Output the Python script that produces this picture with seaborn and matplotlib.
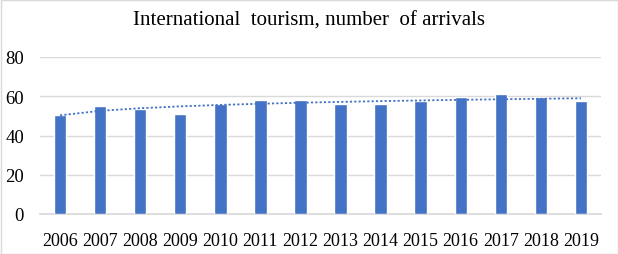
import numpy as np
import pandas as pd
import matplotlib
matplotlib.use("Agg")
import matplotlib.pyplot as plt
import seaborn as sns

years = ["2006", "2007", "2008", "2009", "2010", "2011", "2012",
         "2013", "2014", "2015", "2016", "2017", "2018", "2019"]
arrivals = [50.3, 54.8, 53.3, 50.8, 55.8, 57.9, 57.9,
            55.8, 55.8, 57.4, 59.4, 60.9, 59.4, 57.4]
yticks = [0, 20, 40, 60, 80]
title = "International  tourism, number  of arrivals"

sns.set_theme(style="white")
plt.rcParams['font.family'] = ['Liberation Serif', 'DejaVu Serif']
plt.rcParams['text.color'] = 'black'

df = pd.DataFrame({"year": years, "arrivals": arrivals})

fig = plt.figure(figsize=(6.18, 2.55), dpi=100)
ax = fig.add_axes([40/618, 1-215/255, (601-40)/618, (215-58)/255])

sns.barplot(data=df, x="year", y="arrivals", color="#4472C4", width=0.31,
            saturation=1, ax=ax, zorder=3)

# logarithmic trendline (Excel-style)
xi = np.arange(1, len(arrivals) + 1)
b, a = np.polyfit(np.log(xi), np.array(arrivals), 1)
trend = a + b * np.log(xi)
ax.plot(np.arange(len(arrivals)), trend, linestyle=(0, (1.2, 1.2)),
        color="#4472C4", linewidth=1.3, zorder=4)

ax.set_ylim(0, 80)
ax.set_yticks(yticks)
ax.set_xlim(-0.5, len(years) - 0.5)
ax.yaxis.grid(True, color="#D9D9D9", linewidth=1)
ax.set_axisbelow(True)
for s in ["top", "right", "left"]:
    ax.spines[s].set_visible(False)
ax.spines["bottom"].set_color("#D9D9D9")
ax.tick_params(axis="y", length=0, pad=11.5, labelsize=13.5, labelcolor="black")
ax.tick_params(axis="x", length=0, pad=13, labelsize=13, labelcolor="black")
ax.set_xlabel("")
ax.set_ylabel("")

fig.text(0.5, 1 - 21/255, title, ha="center", va="center", fontsize=15, color="black")

border = plt.Rectangle((0.5/618, 0.5/255), 1 - 1/618, 1 - 1/255, transform=fig.transFigure,
                       fill=False, edgecolor="#D9D9D9", linewidth=1)
fig.patches.append(border)

fig.savefig("out.png", dpi=100)
